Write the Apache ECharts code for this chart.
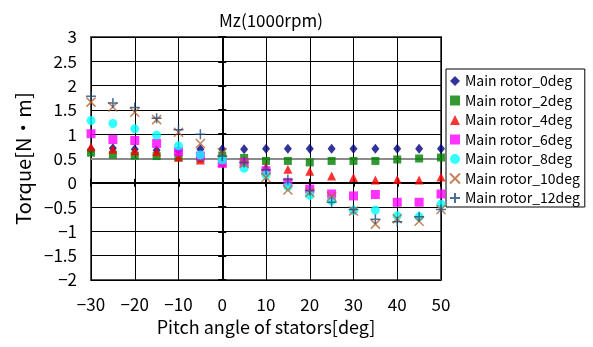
<!DOCTYPE html>
<html>
<head>
<meta charset="utf-8">
<script src="https://cdn.jsdelivr.net/npm/echarts@6/dist/echarts.min.js"></script>
<style>
html,body{margin:0;padding:0;background:#fff;}
#chart{width:593px;height:347px;}
</style>
</head>
<body>
<div id="chart"></div>
<script>
// ---- data ----
const titleText = 'Mz(1000rpm)';
const xName = 'Pitch angle of stators[deg]';
const yName = 'Torque[N\u30FBm]';
const pitch = [-30,-25,-20,-15,-10,-5,0,5,10,15,20,25,30,35,40,45,50];
const seriesNames = ['Main rotor_0deg','Main rotor_2deg','Main rotor_4deg','Main rotor_6deg','Main rotor_8deg','Main rotor_10deg','Main rotor_12deg'];
const rotor0  = [0.68,0.71,0.69,0.67,0.66,0.69,0.69,0.69,0.70,0.70,0.70,0.70,0.70,0.70,0.70,0.70,0.70];
const rotor2  = [0.62,0.58,0.56,0.55,0.52,0.50,0.56,0.51,0.45,0.45,0.42,0.45,0.45,0.45,0.48,0.50,0.52];
const rotor4  = [0.74,0.69,0.66,0.64,0.53,0.47,0.42,0.45,0.33,0.28,0.24,0.14,0.11,0.06,0.07,0.06,0.12];
const rotor6  = [1.01,0.89,0.87,0.81,0.64,0.55,0.40,0.42,0.25,0.01,-0.13,-0.23,-0.27,-0.24,-0.40,-0.40,-0.23];
const rotor8  = [1.28,1.22,1.11,0.98,0.76,0.57,0.47,0.30,0.16,-0.08,-0.26,-0.37,-0.57,-0.56,-0.68,-0.70,-0.44];
const rotor10 = [1.66,1.56,1.45,1.30,1.04,0.81,0.62,0.40,0.11,-0.15,-0.20,-0.28,-0.58,-0.85,-0.74,-0.79,-0.55];
const rotor12 = [1.78,1.64,1.55,1.33,1.09,1.00,0.55,0.42,0.27,0.07,-0.16,-0.40,-0.55,-0.75,-0.80,-0.70,-0.55];
const refLineY = 0.5;

// ---- styles ----
const FONT = '"Noto Sans CJK JP", "DejaVu Sans", sans-serif';
const styles = [
  {symbol:'diamond', size:[8,10], color:'#000080'},
  {symbol:'rect', size:8, color:'#008000'},
  {symbol:'triangle', size:9, color:'#FF0000'},
  {symbol:'rect', size:9, color:'#FF00FF'},
  {symbol:'circle', size:9, color:'#00FFFF'},
  {symbol:'path://M0,0L10,10M10,0L0,10', size:9, color:'#B8602E', stroke:true},
  {symbol:'path://M5,0L5,10M0,5L10,5', size:10, color:'#1F4E79', stroke:true}
];
const allData = [rotor0, rotor2, rotor4, rotor6, rotor8, rotor10, rotor12];

function fmt(v){ return v < 0 ? '\u2212' + Math.abs(v) : String(v); }

const series = allData.map((arr, i) => {
  const st = styles[i];
  const s = {
    name: seriesNames[i],
    type: 'scatter',
    xAxisIndex: 0, yAxisIndex: 0,
    symbol: st.symbol,
    symbolSize: st.size,
    data: pitch.map((x, k) => [x, arr[k]]),
    itemStyle: st.stroke
      ? {color: 'rgba(0,0,0,0)', borderColor: st.color, borderWidth: 1.5}
      : {color: st.color, borderWidth: 0},
    z: 10 + i
  };
  if (i === 0) {
    s.markLine = {
      silent: true, symbol: 'none', label: {show: false},
      lineStyle: {color: '#8c8c8c', width: 2, type: 'solid'},
      data: [{yAxis: refLineY}],
      z: 3
    };
  }
  return s;
});

const xBase = {type:'value', min:-30, max:50, interval:10, gridIndex:0};
const yBase = {type:'value', min:-2, max:3, interval:0.5, gridIndex:0};

const option = {
  animation: false,
  backgroundColor: '#fff',
  textStyle: {fontFamily: FONT},
  title: {
    text: titleText, left: 266, top: 7, textAlign: 'center',
    textStyle: {fontFamily: FONT, fontSize: 17, fontWeight: 'normal', color: '#000'}
  },
  grid: {
    left: 91, top: 37, width: 350, height: 243,
    show: true, borderColor: '#555', borderWidth: 2, backgroundColor: '#fff'
  },
  legend: {
    orient: 'vertical', left: 446, top: 69,
    data: seriesNames,
    borderColor: '#000', borderWidth: 1,
    padding: [5, 5, 2, 3],
    itemGap: 5.5, itemWidth: 10, itemHeight: 10,
    textStyle: {fontFamily: FONT, fontSize: 14, color: '#000', lineHeight: 14}
  },
  xAxis: [
    Object.assign({}, xBase, {
      position: 'bottom',
      name: xName, nameLocation: 'middle', nameGap: 38,
      nameTextStyle: {fontFamily: FONT, fontSize: 18, color: '#000'},
      axisLine: {show: false, onZero: false},
      axisTick: {show: false},
      axisLabel: {fontFamily: FONT, fontSize: 17, color: '#000', margin: 16, formatter: fmt},
      splitLine: {show: true, lineStyle: {color: '#000', width: 1}}
    }),
    Object.assign({}, xBase, {
      position: 'bottom',
      axisLine: {show: true, onZero: true, onZeroAxisIndex: 0, lineStyle: {color: '#000', width: 2}},
      axisTick: {show: true, inside: false, length: 4, lineStyle: {color: '#000', width: 2}},
      axisLabel: {show: false},
      splitLine: {show: false}
    }),
    Object.assign({}, xBase, {
      position: 'bottom',
      axisLine: {show: true, onZero: true, onZeroAxisIndex: 0, lineStyle: {color: '#000', width: 2}},
      axisTick: {show: true, inside: true, length: 4, lineStyle: {color: '#000', width: 2}},
      axisLabel: {show: false},
      splitLine: {show: false}
    })
  ],
  yAxis: [
    Object.assign({}, yBase, {
      position: 'left',
      name: yName, nameLocation: 'middle', nameGap: 58, nameRotate: 90,
      nameTextStyle: {fontFamily: FONT, fontSize: 20, color: '#000'},
      axisLine: {show: false, onZero: false},
      axisTick: {show: false},
      axisLabel: {fontFamily: FONT, fontSize: 17, color: '#000', margin: 14, formatter: fmt},
      splitLine: {show: true, lineStyle: {color: '#000', width: 1}}
    }),
    Object.assign({}, yBase, {
      position: 'left',
      axisLine: {show: true, onZero: true, onZeroAxisIndex: 0, lineStyle: {color: '#000', width: 2}},
      axisTick: {show: true, inside: false, length: 4, lineStyle: {color: '#000', width: 2}},
      axisLabel: {show: false},
      splitLine: {show: false}
    }),
    Object.assign({}, yBase, {
      position: 'left',
      axisLine: {show: true, onZero: true, onZeroAxisIndex: 0, lineStyle: {color: '#000', width: 2}},
      axisTick: {show: true, inside: true, length: 4, lineStyle: {color: '#000', width: 2}},
      axisLabel: {show: false},
      splitLine: {show: false}
    })
  ],
  series: series
};

const chart = echarts.init(document.getElementById('chart'), null, {renderer: 'canvas'});
chart.setOption(option);
</script>
</body>
</html>
